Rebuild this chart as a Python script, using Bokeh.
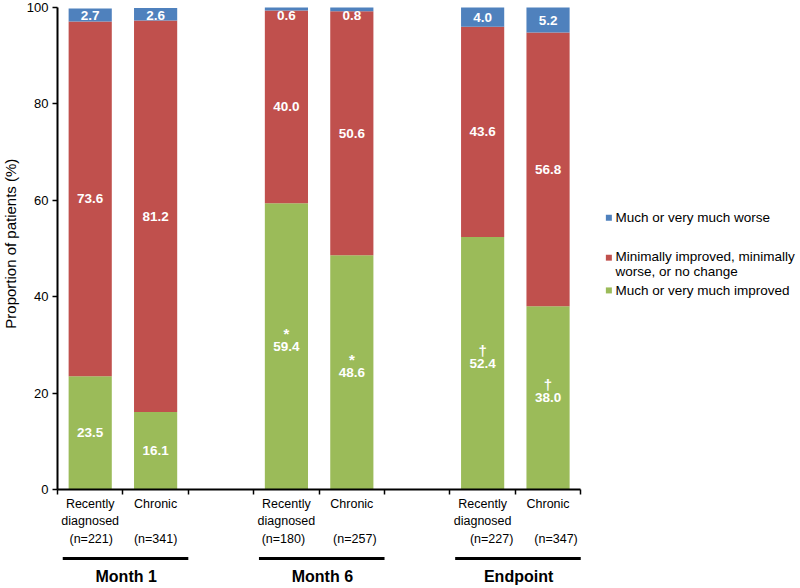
import math
from bokeh.plotting import figure
from bokeh.models import ColumnDataSource, Range1d, FixedTicker, LinearAxis
from bokeh.core.properties import value
from bokeh.embed import file_html
from bokeh.resources import INLINE

# ---- data ----
groups = ["Month 1", "Month 6", "Endpoint"]
subgroups = ["Recently\ndiagnosed", "Chronic"]
n_values = [221, 341, 180, 257, 227, 347]
series_names = ["Much or very much worse",
                "Minimally improved, minimally\nworse, or no change",
                "Much or very much improved"]
improved = [23.5, 16.1, 59.4, 48.6, 52.4, 38.0]
minimal = [73.6, 81.2, 40.0, 50.6, 43.6, 56.8]
worse = [2.7, 2.6, 0.6, 0.8, 4.0, 5.2]
marks = ["", "", "*", "*", "\u2020", "\u2020"]
y_ticks = [0, 20, 40, 60, 80, 100]
y_title = "Proportion of patients (%)"

# ---- colours / fonts / small text nudges (px) ----
C_BLUE, C_RED, C_GREEN = "#4F81BD", "#C0504D", "#9BBB59"
FONT = "Liberation Sans"
n_shift = [1, 0, -3, 3, 9, 8]

xs = [g * 3 + s + 0.5 for g in range(len(groups)) for s in range(len(subgroups))]
src = ColumnDataSource(dict(
    x=xs, improved=improved, minimal=minimal, worse=worse,
    y_imp=[v / 2 for v in improved],
    y_min=[a + b / 2 for a, b in zip(improved, minimal)],
    y_wor=[min(a + b + c / 2, 98.4) for a, b, c in zip(improved, minimal, worse)],
    t_imp=[f"{v:.1f}" for v in improved],
    t_min=[f"{v:.1f}" for v in minimal],
    t_wor=[f"{v:.1f}" for v in worse],
    marks=marks,
    cat=[subgroups[i % 2] for i in range(len(xs))],
    ntxt=[f"(n={n})" for n in n_values],
    nshift=n_shift,
))

# the frame covers the whole canvas; axes sit at x=0 / y=0 inside it
p = figure(width=800, height=588, output_backend="svg", toolbar_location=None,
           x_range=Range1d(-0.8716, 11.36), y_range=Range1d(-20.54, 101.45),
           min_border_left=0, min_border_right=0, min_border_top=0, min_border_bottom=0,
           x_axis_location=None, y_axis_location=None)
p.outline_line_color = None
p.xgrid.visible = False
p.ygrid.visible = False

# y axis
yax = LinearAxis(bounds=(0, 100), ticker=FixedTicker(ticks=y_ticks), fixed_location=0)
yax.axis_line_width = 2
yax.axis_line_color = "black"
yax.major_tick_line_width = 1.5
yax.major_tick_out = 5
yax.major_tick_in = 0
yax.minor_tick_out = 0
yax.minor_tick_in = 0
yax.major_label_standoff = 4
yax.major_label_text_font = FONT
yax.major_label_text_font_size = "13px"
yax.major_label_text_color = "black"
p.add_layout(yax, "left")

# y axis title, centred on the 0-100 span of the axis
p.text(x=[-0.719], y=[51], text=[y_title], angle=math.pi / 2, text_align="center",
       text_baseline="middle", text_font=value(FONT), text_font_size="15px",
       text_color="black")

# x axis (baseline at y=0, ticks between categories, no tick labels)
xax = LinearAxis(bounds=(0, 8), ticker=FixedTicker(ticks=list(range(9))), fixed_location=0,
                 major_label_overrides={i: "" for i in range(9)})
xax.axis_line_width = 2
xax.axis_line_color = "black"
xax.major_tick_line_width = 1.5
xax.major_tick_out = 5
xax.major_tick_in = 0
xax.minor_tick_out = 0
xax.minor_tick_in = 0
p.add_layout(xax, "below")

# stacked bars
p.vbar_stack(["improved", "minimal", "worse"], x="x", width=0.66, source=src,
             color=[C_GREEN, C_RED, C_BLUE], line_color=None)

# value labels
for ycol, tcol in (("y_imp", "t_imp"), ("y_min", "t_min"), ("y_wor", "t_wor")):
    p.text(x="x", y=ycol, text=tcol, source=src, text_align="center", text_baseline="middle",
           text_font=value(FONT), text_font_style="bold", text_font_size="13.5px",
           text_color="white")
p.text(x="x", y="y_imp", text="marks", source=src, text_align="center", text_baseline="middle",
       y_offset=-13, text_font=value(FONT), text_font_style="bold", text_font_size="15px",
       text_color="white")

# category labels under the axis
p.text(x="x", y=-1.66, text="cat", source=src, text_align="center", text_baseline="top",
       text_font=value(FONT), text_font_size="12.5px", text_color="black", text_line_height=1.2)
p.text(x="x", y=-10.37, text="ntxt", source=src, x_offset="nshift", text_align="center",
       text_baseline="middle", text_font=value(FONT), text_font_size="12.5px",
       text_color="black")

# group underlines and titles
gx0 = [g * 3 + 0.08 for g in range(len(groups))]
gx1 = [g * 3 + 2.0 for g in range(len(groups))]
p.segment(x0=gx0, y0=[-14.3] * 3, x1=gx1, y1=[-14.3] * 3, line_color="black", line_width=3)
p.text(x=[g * 3 + 1.05 for g in range(len(groups))], y=[-18.05] * 3, text=groups,
       text_align="center", text_baseline="middle", text_font=value(FONT),
       text_font_style="bold", text_font_size="16px", text_color="black")

# legend (drawn in data space to the right of the bars)
leg_sq_y = [56.4, 48.1, 41.3]
leg_tx_y = [56.4, 46.8, 41.3]
p.scatter(x=[8.43] * 3, y=leg_sq_y, marker="square", size=6,
          color=[C_BLUE, C_RED, C_GREEN], line_color=None)
p.text(x=[8.53] * 3, y=leg_tx_y, text=series_names, text_align="left", text_baseline="middle",
       text_font=value(FONT), text_font_size="13.5px", text_color="black", text_line_height=1.05)

open("out.html", "w").write(file_html(p, INLINE))
